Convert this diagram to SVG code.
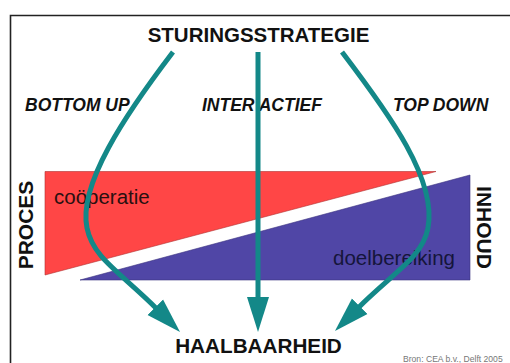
<svg xmlns="http://www.w3.org/2000/svg" width="510" height="363" viewBox="0 0 510 363">
<defs>
<style>
.b{font-family:"Liberation Sans",Arial,sans-serif;font-weight:bold;fill:#111}
.bi{font-family:"Liberation Sans",Arial,sans-serif;font-weight:bold;font-style:italic;font-size:17.5px;fill:#111}
.r{font-family:"Liberation Sans",Arial,sans-serif;font-size:20.5px}
.arr{fill:none;stroke:#138888;stroke-width:5}
</style>
<marker id="ah" markerUnits="userSpaceOnUse" markerWidth="37" markerHeight="24" refX="3" refY="12" orient="auto">
<path d="M0,1 L35,12 L0,23 z" fill="#138888"/>
</marker>
</defs>
<rect width="510" height="363" fill="#fff"/>
<path d="M10.5,363 V15.5 H510" fill="none" stroke="#222" stroke-width="1.6"/>
<g id="proces-shape">
<polygon points="45,171.5 436,171.5 45,275" fill="#FF4646" stroke="#b03030" stroke-width="0.6"/>
<text class="r" x="54" y="204" fill="#2a1010">coöperatie</text>
</g>
<g id="inhoud-shape">
<polygon points="470,175 470,280 80,280" fill="#5046A6" stroke="#3a3280" stroke-width="0.6"/>
<text class="r" x="333" y="265" fill="#15153a">doelbereiking</text>
</g>
<g id="sturingsstrategie"><text class="b" x="258.5" y="41.5" font-size="20.5" text-anchor="middle">STURINGSSTRATEGIE</text></g>
<g id="haalbaarheid"><text class="b" x="258.5" y="353" font-size="20.7" text-anchor="middle">HAALBAARHEID</text></g>
<g id="proces"><text class="b" font-size="21" text-anchor="middle" transform="translate(33,225) rotate(-90)">PROCES</text></g>
<g id="inhoud"><text class="b" font-size="21" text-anchor="middle" transform="translate(477,227.5) rotate(90)">INHOUD</text></g>
<g id="bottom-up"><text class="bi" x="25" y="110.5">BOTTOM UP</text></g>
<g id="interactief"><text class="bi" x="202" y="110.5">INTER ACTIEF</text></g>
<g id="top-down"><text class="bi" x="393" y="110.5">TOP DOWN</text></g>
<g id="connectors">
<path class="arr" d="M173,52 C125,115 78,185 87,228 C93,258 120,272 157.4,309.4" marker-end="url(#ah)"/>
<path class="arr" d="M258,52 V300" marker-end="url(#ah)"/>
<path class="arr" d="M342,52 C390,115 437,180 428,228 C422,258 395,271 357.6,308.4" marker-end="url(#ah)"/>
</g>
<text x="403" y="362" font-family="'Liberation Sans',Arial,sans-serif" font-size="8.6" fill="#777">Bron: CEA b.v., Delft 2005</text>
</svg>
